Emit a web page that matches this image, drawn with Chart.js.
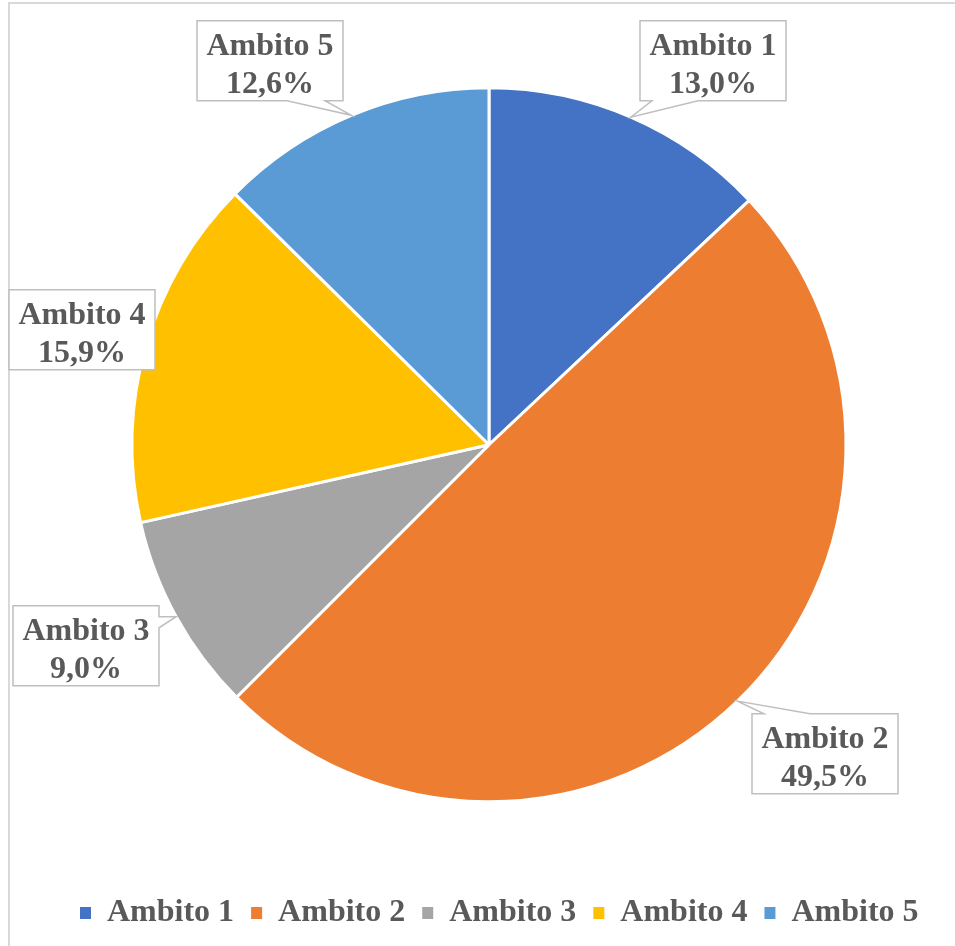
<!DOCTYPE html>
<html><head><meta charset="utf-8">
<script src="https://cdn.jsdelivr.net/npm/chart.js@4/dist/chart.umd.min.js"></script>
<style>
html,body{margin:0;padding:0;background:#fff;width:955px;height:946px;overflow:hidden}
#frame{position:absolute;left:8px;top:2px;width:1000px;height:1000px;border-left:2px solid #d9d9d9;border-top:2px solid #d9d9d9}
#wrap{position:absolute;left:0;top:0;width:955px;height:946px}
</style></head><body>
<div id="frame"></div>
<div id="wrap"><canvas id="c" width="955" height="946"></canvas></div>
<script>
const categories = ['Ambito 1', 'Ambito 2', 'Ambito 3', 'Ambito 4', 'Ambito 5'];
const shares = [13.0, 49.5, 9.0, 15.9, 12.6];
const sliceColors = ['#4472C4', '#ED7D31', '#A5A5A5', '#FFC000', '#5B9BD5'];
const calloutOffsets = [[224, -384], [336, 309], [-403, 201], [-407, -115], [-219, -384]];

const FONT = "'Liberation Serif', 'Times New Roman', serif";
const TEXT = '#595959';
const FSIZE = 32;
const LEG_PAD = 17;

const callouts = {
  id: 'callouts',
  afterDatasetsDraw(chart) {
    const meta = chart.getDatasetMeta(0);
    const ctx = chart.ctx;
    meta.data.forEach((arc, i) => {
      const mid = (arc.startAngle + arc.endAngle) / 2;
      const tip = {x: arc.x + Math.cos(mid) * arc.outerRadius, y: arc.y + Math.sin(mid) * arc.outerRadius};
      const cx = arc.x + calloutOffsets[i][0], cy = arc.y + calloutOffsets[i][1];
      const w = 146, h = 80;
      const L = cx - w / 2, T = cy - h / 2, R = cx + w / 2, B = cy + h / 2;
      const dxOut = Math.max(L - tip.x, tip.x - R, 0);
      const dyOut = Math.max(T - tip.y, tip.y - B, 0);
      const pts = [];
      if (dxOut === 0 && dyOut === 0) {
        pts.push([L, T], [R, T], [R, B], [L, B]);
      } else if (dyOut > 0) {
        let b1, b2;
        if (tip.x < cx) { b1 = L + 12; b2 = L + 58; } else { b1 = R - 56; b2 = R - 18; }
        if (tip.y > B) {
          pts.push([L, T], [R, T], [R, B], [b2, B], [tip.x, tip.y], [b1, B], [L, B]);
        } else {
          pts.push([L, T], [b1, T], [tip.x, tip.y], [b2, T], [R, T], [R, B], [L, B]);
        }
      } else {
        let b1, b2;
        if (tip.y < cy) { b1 = T + 11; b2 = T + 22; } else { b1 = B - 22; b2 = B - 11; }
        if (tip.x > R) {
          pts.push([L, T], [R, T], [R, b1], [tip.x, tip.y], [R, b2], [R, B], [L, B]);
        } else {
          pts.push([L, T], [R, T], [R, B], [L, B], [L, b2], [tip.x, tip.y], [L, b1]);
        }
      }
      ctx.save();
      ctx.beginPath();
      pts.forEach((p, k) => k ? ctx.lineTo(p[0], p[1]) : ctx.moveTo(p[0], p[1]));
      ctx.closePath();
      ctx.fillStyle = '#ffffff';
      ctx.fill();
      ctx.lineWidth = 1.5;
      ctx.strokeStyle = '#bfbfbf';
      ctx.stroke();
      ctx.fillStyle = TEXT;
      ctx.font = 'bold ' + FSIZE + 'px ' + FONT;
      ctx.textAlign = 'center';
      ctx.textBaseline = 'middle';
      ctx.fillText(categories[i], cx, cy - 14);
      ctx.fillText(shares[i].toFixed(1).replace('.', ',') + '%', cx, cy + 24);
      ctx.restore();
    });
  }
};

const legendShift = {
  id: 'legendShift',
  afterLayout(chart) {
    const lg = chart.legend;
    if (!lg || !lg.lineWidths || !lg.lineWidths.length) return;
    const firstX = (lg.left + LEG_PAD + lg.right - lg.lineWidths[0]) / 2;
    const dx = 80 - firstX;
    lg.left += dx;
    lg.right += dx;
  }
};

new Chart(document.getElementById('c'), {
  type: 'pie',
  data: {
    labels: categories,
    datasets: [{
      data: shares,
      backgroundColor: sliceColors,
      borderColor: '#ffffff',
      borderWidth: 3,
      radius: 357
    }]
  },
  options: {
    responsive: false,
    animation: false,
    layout: {padding: {left: 23, right: 0, top: 9.5, bottom: 7}},
    plugins: {
      tooltip: {enabled: false},
      legend: {
        position: 'bottom',
        labels: {
          color: TEXT,
          font: {family: FONT, size: FSIZE, weight: 'bold'},
          boxWidth: 11,
          boxHeight: 12,
          padding: LEG_PAD,
          generateLabels(chart) {
            const items = Chart.overrides.pie.plugins.legend.labels.generateLabels(chart);
            items.forEach(it => { it.lineWidth = 0; it.strokeStyle = it.fillStyle; });
            return items;
          }
        }
      }
    }
  },
  plugins: [callouts, legendShift]
});
</script>
</body></html>
